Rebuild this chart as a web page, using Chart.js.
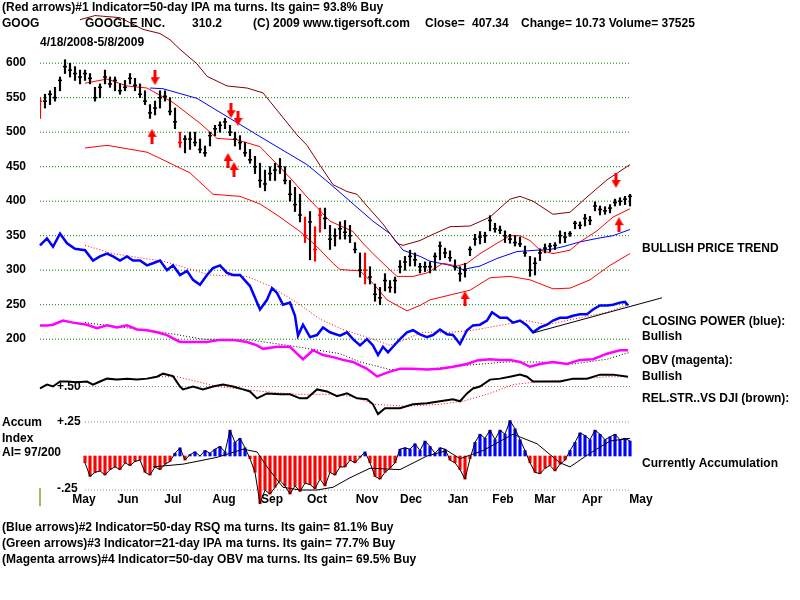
<!DOCTYPE html>
<html>
<head>
<meta charset="utf-8">
<script src="https://cdn.jsdelivr.net/npm/chart.js@4.4.0/dist/chart.umd.min.js"></script>
<style>body{margin:0;background:#fff}canvas{display:block}</style>
</head>
<body>
<canvas id="chart" width="800" height="600"></canvas>
<script>
// GOOG daily bars, 4/18/2008 - 5/8/2009 (one bar per 2 sessions)
var priceHigh = [550,555,560,565,580,605,600,595,590,590, 585,565,570,590,580,580,570,575,585,578,
  570,560,540,545,560,560,550,535,500,495, 500,500,490,480,500,510,515,520,510,500,
  495,485,475,465,455,445,450,455,462,450, 430,420,410,377,385,363,390,390,365,360,
  370,372,365,340,325,325,305,280,275,295, 285,290,314,320,329,325,310,312,312,325,
  341,332,328,315,305,310,334,352,356,355, 379,368,364,357,352,350,348,335,320,318,
  331,338,339,340,357,355,356,371,370,381, 378,399,393,392,395,403,405,407,410];
var priceLow = [520,535,540,545,560,585,580,575,570,575, 570,545,550,570,565,560,555,560,570,560,
  550,540,520,525,535,545,525,505,478,470, 475,480,470,465,480,495,500,505,495,480,
  475,465,455,440,420,415,430,430,440,425, 400,385,370,340,315,313,355,360,330,335,
  345,345,340,325,290,280,280,255,250,270, 268,267,296,300,306,306,296,298,296,300,
  315,318,313,300,284,290,321,336,338,340, 357,355,353,340,339,335,334,320,291,293,
  314,325,327,330,339,340,349,360,360,364, 366,386,380,381,383,393,394,395,393];
var priceClose = [545,545,555,550,575,595,590,585,580,585, 578,550,565,580,570,575,560,565,578,568,
  555,545,528,535,550,552,530,515,485,490, 490,485,475,470,495,505,510,515,500,490,
  485,470,460,450,430,425,440,445,450,430, 410,395,380,350,370,330,380,375,345,350,
  360,355,350,330,300,300,290,265,260,285, 275,285,305,312,320,315,305,305,305,320,
  335,325,318,305,295,300,330,345,348,350, 372,360,358,350,345,340,338,325,300,310,
  325,332,335,336,350,348,353,368,365,375, 372,393,388,386,390,398,400,403,407];
var redBars = [0, 28, 53, 55, 56, 65];

// moving average bands [bar index, price]
var bandUpper = [[8,663],[11,669],[16,666],[20.6,649],[24,643],[26,634],[28,620],[31.4,599],[33.4,581],[37.4,567],
  [41.4,564],[44.6,557],[51.4,496],[53.4,481],[56,452],[58.6,424],[61.4,414],[63.4,410],[65.4,393],[68.6,367],
  [71.4,339],[72.6,336],[76,343],[78,350],[82,363],[86,364],[90,377],[94,403],[96,407],[98.6,400],[102.6,381],
  [106,384],[109.4,406],[113.4,431],[118,453]];
var ma21 = [[9,571],[13.4,577],[17.4,567],[21.4,564],[26.6,543],[32,513],[35.4,491],[39.4,489],[44,479],[48,449],
  [50,434],[53.4,406],[55.4,391],[58,371],[62.6,356],[64.6,339],[66.6,324],[68.6,310],[71.4,291],[74.6,291],
  [77.4,296],[80.6,310],[83.4,306],[85.4,310],[88,324],[91.4,339],[94,350],[96,350],[98,343],[100,329],
  [102.6,324],[106,329],[108,341],[111.4,357],[114.6,377],[118,389]];
var ma50 = [[22,564],[24.6,563],[31.4,549],[38,520],[44.6,491],[53.4,453],[57.4,429],[62,400],[66.6,371],[70,353],
  [72.6,329],[76,320],[78,313],[82,307],[84.6,301],[88,306],[91.4,317],[95.4,327],[99.4,329],[102,330],
  [104.6,334],[108,341],[111.4,346],[114.6,350],[118,359]];
var bandLower = [[9,477],[13.4,481],[21.4,471],[24.6,460],[30,441],[34.6,410],[40,407],[44,396],[48,377],[52,356],
  [55.4,334],[58.6,310],[60,301],[64,299],[66.6,281],[69.4,257],[73.4,241],[76,249],[78,257],[82,264],[86,271],
  [90,289],[94,291],[98,286],[102.6,273],[106,274],[110,286],[114,307],[118,324]];

// indicator lines, plotted on the price scale
var closingPower = [[0,336],[1.4,346],[2.6,334],[4,353],[5.4,339],[7,331],[9,329],[10.6,314],[12,320],[13.4,324],
  [14.6,320],[16,314],[17.4,320],[18.6,314],[20,314],[21.4,307],[22.6,310],[24,314],[25.4,300],[26.6,307],
  [28,293],[29.4,299],[30.6,286],[32,279],[33.4,293],[34.6,303],[36,307],[37.4,296],[38.6,293],[40,293],
  [42,277],[44,243],[45.4,257],[46.4,274],[47.4,267],[48.6,250],[50,253],[51,234],[51.6,205],[52.6,221],
  [54,203],[55.4,206],[56.6,217],[58,210],[60,205],[61.4,210],[62.6,200],[64,191],[65.4,200],[66.6,191],
  [67.6,177],[68.6,189],[69.6,181],[70.6,189],[72,200],[73.4,210],[74.6,213],[76,207],[77.4,203],[78.6,206],
  [80,214],[81.4,207],[82.6,206],[84,193],[85.4,213],[86.6,220],[88,221],[89.4,227],[90.4,239],[92,231],
  [93.4,231],[94.6,224],[96,227],[97.4,220],[98.6,210],[100,217],[101.4,221],[102.6,227],[104,231],[105.4,231],
  [106.6,234],[108,236],[109.4,236],[110.6,243],[112,249],[113.4,249],[114.6,250],[116,253],[117,254],[117.6,249]];
var closingPowerMa = [[9,336],[14.6,324],[24.6,313],[28,306],[34,293],[41.4,291],[46,277],[51.4,253],[56,229],
  [60.6,214],[66.6,200],[70,191],[76.6,210],[82,210],[86.6,213],[92,220],[97.4,227],[101.4,221],[106.6,229],
  [113.4,239],[117.4,249]];
var cpTrend = [[98.6,209],[124.4,260]];
var obv = [[0,220],[1.4,220],[2.6,221],[4.6,227],[6.6,224],[9.4,221],[11.4,216],[13.4,220],[15.4,217],[17.4,220],
  [19.4,214],[21.4,213],[23.4,210],[25.4,206],[28,196],[30.6,196],[33.4,196],[36,199],[38.6,199],[41.4,196],
  [43.4,191],[44.6,186],[47.4,189],[50,189],[51.4,179],[52.6,171],[54.6,184],[56.6,177],[58.6,174],[60.6,170],
  [62.6,167],[65.4,157],[67.4,146],[70,153],[72,157],[74.6,157],[77.4,156],[80,157],[82.6,160],[85.4,164],
  [87.4,169],[90,171],[92,170],[94,170],[96,167],[98,160],[100,164],[102.6,167],[105.4,164],[108,170],
  [110.6,171],[113.4,179],[116,184],[117.6,184]];
var obvMa = [[9,224],[24.6,210],[32.6,200],[42,199],[51.4,189],[60,179],[64,167],[70,156],[76.6,156],[86.6,163],
  [93.4,167],[100,167],[106.6,164],[113.4,171],[118,181]];

// relative strength vs DJI
var relStr = [[0,0.486],[1.4,0.514],[2.6,0.50],[4,0.536],[5.4,0.536],[7.4,0.53],[9.4,0.536],[10.6,0.514],[12,0.536],
  [13.4,0.557],[15.4,0.55],[17.4,0.557],[19.4,0.55],[21.4,0.557],[23.4,0.571],[24.6,0.593],[26.6,0.575],[28,0.50],
  [28.6,0.479],[30.6,0.50],[32.6,0.479],[34.6,0.50],[36.6,0.514],[38.6,0.50],[40.6,0.479],[42,0.464],[43.4,0.414],
  [45.4,0.45],[48,0.443],[50,0.443],[52,0.414],[53.4,0.414],[55.4,0.479],[57.4,0.464],[59.4,0.43],[61.4,0.45],
  [63.4,0.414],[65.4,0.407],[66.6,0.371],[67.6,0.30],[69,0.343],[70.6,0.343],[72,0.343],[74.6,0.371],[77.4,0.379],
  [80,0.393],[82.6,0.407],[84,0.393],[85.4,0.45],[86.6,0.486],[88,0.50],[90,0.55],[92,0.557],[94,0.571],[96,0.586],
  [97.4,0.571],[98.6,0.536],[101.4,0.536],[104,0.536],[106.6,0.557],[109.4,0.557],[112,0.586],[114.6,0.586],[117.6,0.571]];
var relStrMa = [[22.6,0.571],[27.4,0.571],[31.4,0.536],[35.4,0.50],[44.6,0.464],[51.4,0.443],[58,0.443],[62,0.43],
  [64,0.41],[66.6,0.371],[73.4,0.357],[80,0.371],[84.6,0.393],[90,0.45],[94.6,0.514],[100,0.536],[106.6,0.55],
  [113.4,0.571],[117.6,0.571]];

// accumulation index, one value per bar from bar 9
var aiStart = 9;
var accumIndex = [-0.05,-0.15,-0.12,-0.11,-0.14,-0.10,-0.08,-0.10,-0.05,-0.07,-0.04,-0.03,-0.12,-0.14,-0.08,-0.10,
  -0.06,-0.04,0.02,0.06,-0.03,0.01,0.03,0.00,0.04,0.02,0.05,0.07,0.03,0.19,0.10,0.13,0.06,-0.02,-0.12,-0.35,
  -0.25,-0.28,-0.23,-0.18,-0.22,-0.28,-0.22,-0.26,-0.20,-0.21,-0.24,-0.17,-0.22,-0.12,-0.14,-0.08,-0.08,-0.03,
  -0.05,-0.01,0.03,-0.05,-0.15,-0.17,-0.12,-0.09,-0.05,0.05,0.06,0.05,0.09,0.04,0.11,0.07,0.02,0.06,0.05,-0.03,
  -0.05,-0.10,-0.17,-0.02,0.10,0.16,0.13,0.19,0.12,0.19,0.16,0.26,0.20,0.12,0.04,-0.05,-0.12,-0.13,-0.09,-0.07,
  -0.11,-0.06,-0.03,0.04,0.10,0.17,0.15,0.12,0.19,0.16,0.12,0.14,0.16,0.12,0.13,0.11];
var accumMa = [[22.6,-0.08],[28.6,-0.06],[35.4,-0.01],[40.6,0.05],[43.4,0.03],[45.4,-0.08],[48.6,-0.23],[52,-0.25],
  [55.4,-0.25],[58.6,-0.23],[62,-0.16],[66,-0.09],[72,-0.10],[77.4,0.0],[81.4,0.04],[84,-0.02],[88.6,0.04],
  [94.6,0.16],[99.4,0.09],[104,-0.05],[106,-0.08],[110,0.02],[114,0.11],[118,0.13]];

// signal arrows [bar index, price]
var downArrows = [[23,579],[38.2,531],[39.6,520],[115.2,430]];
var upArrows = [[22.4,494],[37.6,459],[38.8,446],[85,259],[115.8,366]];

var priceTicks = [200,250,300,350,400,450,500,550,600];
var monthLabels = ["May","Jun","Jul","Aug","Sep","Oct","Nov","Dec","Jan","Feb","Mar","Apr","May"];
var monthPos = [8.8,17.6,26.6,36.8,46.4,55.4,65.4,74.2,83.6,92.6,101,110.4,120.2];

var FONT = 'bold 12px "Liberation Sans", Arial, sans-serif';
var lastBar = priceClose.length - 1;

function pts(list) { return list.map(function (p) { return {x: p[0], y: p[1]}; }); }

function arrowImg(down) {
  var c = document.createElement('canvas');
  c.width = 9; c.height = 15;
  var g = c.getContext('2d');
  g.fillStyle = '#ff0000';
  g.beginPath();
  if (down) {
    g.fillRect(3, 0, 3, 8);
    g.moveTo(0, 7); g.lineTo(9, 7); g.lineTo(4.5, 15);
  } else {
    g.fillRect(3, 7, 3, 8);
    g.moveTo(0, 8); g.lineTo(9, 8); g.lineTo(4.5, 0);
  }
  g.fill();
  return c;
}

function line(data, color, width, axis, dash) {
  return {type: 'line', data: data, borderColor: color, borderWidth: width, borderDash: dash || [],
    pointRadius: 0, tension: 0, yAxisID: axis || 'y', clip: false};
}
function hline(x0, x1, v, color, axis) {
  return line([{x: x0, y: v}, {x: x1, y: v}], color, 1, axis, [1, 2]);
}

var datasets = [];
// price bars on top
datasets.push({type: 'bar', grouped: false, barThickness: 1.5, yAxisID: 'y',
  data: priceHigh.map(function (h, i) { return {x: i, y: [priceLow[i], h]}; }),
  backgroundColor: priceHigh.map(function (h, i) { return redBars.indexOf(i) >= 0 ? '#ff0000' : '#000000'; })});
datasets.push({type: 'line', showLine: false, yAxisID: 'y', pointStyle: 'line', pointRadius: 2, borderWidth: 1.5,
  data: priceClose.map(function (c, i) { return {x: i, y: c}; }),
  borderColor: priceClose.map(function (c, i) { return redBars.indexOf(i) >= 0 ? '#ff0000' : '#000000'; })});
datasets.push({type: 'line', showLine: false, yAxisID: 'y', data: pts(downArrows), pointStyle: arrowImg(true), pointRadius: 6});
datasets.push({type: 'line', showLine: false, yAxisID: 'y', data: pts(upArrows), pointStyle: arrowImg(false), pointRadius: 6});

datasets.push(line(pts(bandUpper), '#800000', 1));
datasets.push(line(pts(ma21), '#ff0000', 1));
datasets.push(line(pts(ma50), '#0000ff', 1));
datasets.push(line(pts(bandLower), '#ff0000', 1));

datasets.push(line(pts(cpTrend), '#000000', 1));
datasets.push(line(pts(closingPower), '#0000ff', 2.5));
datasets.push(line(pts(closingPowerMa), '#ff0000', 1, 'y', [1, 2]));
datasets.push(line(pts(obv), '#ff00ff', 2.5));
datasets.push(line(pts(obvMa), '#000000', 1, 'y', [1, 2]));
datasets.push(line(pts(relStr), '#000000', 2, 'yRS'));
datasets.push(line(pts(relStrMa), '#ff0000', 1, 'yRS', [1, 2]));

var aiPts = accumIndex.map(function (v, k) { return {x: k + aiStart, y: v}; });
datasets.push(line(aiPts, '#000000', 1, 'yAI'));
datasets.push(line(pts(accumMa), '#000000', 1, 'yAI'));
datasets.push({type: 'bar', grouped: false, barThickness: 2.5, yAxisID: 'yAI', clip: false, data: aiPts,
  backgroundColor: accumIndex.map(function (v) { return v < 0 ? '#ff0000' : '#0000ff'; })});
datasets.push(line([{x: 0, y: -0.235}, {x: 0, y: -0.37}], '#999933', 1.5, 'yAI'));

// dotted reference lines
priceTicks.forEach(function (v) { datasets.push(hline(0, lastBar, v, '#008000', 'y')); });
datasets.push(hline(8, lastBar, 0.5, '#b08080', 'yRS'));
datasets.push(hline(aiStart, lastBar, 0.25, '#909090', 'yAI'));
datasets.push(hline(aiStart, lastBar, -0.25, '#909090', 'yAI'));

var texts = [
  ['(Red arrows)#1 Indicator=50-day IPA ma turns. Its gain= 93.8% Buy', 2, 8],
  ['GOOG', 2, 24], ['GOOGLE INC.', 85, 24], ['310.2', 192, 24], ['(C) 2009 www.tigersoft.com', 253, 24],
  ['Close=', 425, 24], ['407.34', 472, 24], ['Change= 10.73 Volume= 37525', 521, 24],
  ['4/18/2008-5/8/2009', 40, 43],
  ['BULLISH PRICE TREND', 642, 249],
  ['CLOSING POWER (blue):', 642, 322], ['Bullish', 642, 337],
  ['OBV (magenta):', 642, 361], ['Bullish', 642, 377],
  ['REL.STR..VS DJI (brown):', 642, 399],
  ['Currently Accumulation', 642, 464],
  ['Accum', 2, 423], ['Index', 2, 439], ['AI= 97/200', 2, 453],
  ['(Blue arrows)#2 Indicator=50-day RSQ ma turns. Its gain= 81.1% Buy', 2, 528],
  ['(Green arrows)#3 Indicator=21-day IPA ma turns. Its gain= 77.7% Buy', 2, 544],
  ['(Magenta arrows)#4 Indicator=50-day OBV ma turns. Its gain= 69.5% Buy', 2, 560]
];

var textPlugin = {
  id: 'texts',
  afterDraw: function (chart) {
    var g = chart.ctx;
    g.save();
    g.fillStyle = '#000';
    g.font = FONT;
    g.textBaseline = 'middle';
    g.textAlign = 'left';
    texts.forEach(function (t) { g.fillText(t[0], t[1], t[2]); });
    var ai = chart.scales.yAI, rs = chart.scales.yRS;
    g.fillText('+.25', 57, ai.getPixelForValue(0.25));
    g.fillText('-.25', 57, ai.getPixelForValue(-0.25) - 1);
    g.fillText('+.50', 57, rs.getPixelForValue(0.5));
    g.restore();
  }
};

// plot area is y 0..490 px; scales set so the gridlines land where the picture has them
var PMAX = 600 + 57 / 0.7, PMIN = 600 - (490 - 57) / 0.7;
function noEdgePadding(s) {
  s.paddingTop = 0; s.paddingBottom = 0; s.paddingLeft = 0; s.paddingRight = 0;
}

new Chart(document.getElementById('chart').getContext('2d'), {
  type: 'line',
  data: {datasets: datasets},
  plugins: [textPlugin],
  options: {
    responsive: false,
    animation: false,
    devicePixelRatio: 1,
    layout: {padding: {left: 0, top: 0, right: 135, bottom: 90}},
    plugins: {legend: {display: false}, tooltip: {enabled: false}},
    scales: {
      x: {
        type: 'linear', min: 0, max: 125, offset: false,
        grid: {display: false, drawTicks: false}, border: {display: false},
        afterBuildTicks: function (s) { s.ticks = monthPos.map(function (v) { return {value: v}; }); },
        afterFit: function (s) { s.height = 20; noEdgePadding(s); },
        ticks: {autoSkip: false, maxRotation: 0, padding: 2, color: '#000',
          font: {family: '"Liberation Sans", Arial, sans-serif', size: 12, weight: 'bold'},
          callback: function (v, i) { return monthLabels[i]; }}
      },
      y: {
        type: 'linear', position: 'left', min: PMIN, max: PMAX,
        grid: {display: false, drawTicks: false}, border: {display: false},
        afterBuildTicks: function (s) { s.ticks = priceTicks.map(function (v) { return {value: v}; }); },
        afterFit: function (s) { s.width = 40; noEdgePadding(s); },
        ticks: {padding: 14, color: '#000',
          font: {family: '"Liberation Sans", Arial, sans-serif', size: 12, weight: 'bold'},
          callback: function (v) { return String(v); }}
      },
      yAI: {type: 'linear', display: false, min: -0.25, max: 0.25 + 421 / 138},
      yRS: {type: 'linear', display: false, min: 0.5 - 105 / 140, max: 0.5 + 385 / 140}
    }
  }
});
</script>
</body>
</html>
